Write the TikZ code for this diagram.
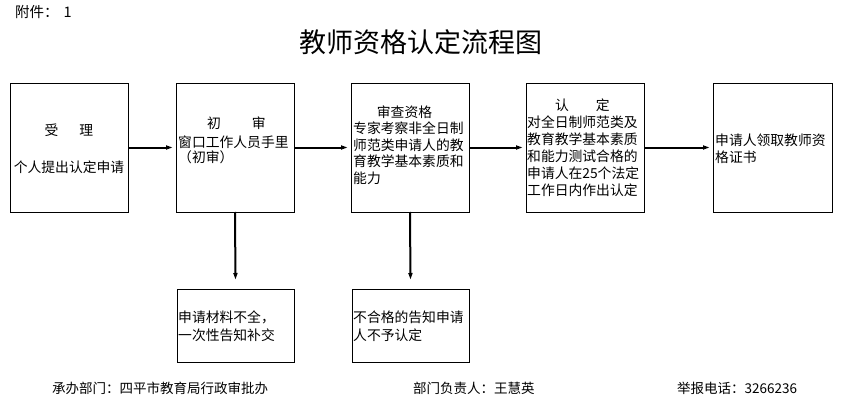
\documentclass[tikz,border=0pt]{standalone}
\usepackage{fontspec}
\setmainfont{Noto Sans CJK SC}
\usetikzlibrary{arrows.meta}
\begin{document}
\begin{tikzpicture}[x=1pt,y=-1pt,
  box/.style={draw=black,line width=0.8pt,rectangle,inner sep=0pt,outer sep=0pt},
  txt/.style={inner sep=0pt,anchor=west,font=\fontsize{13.8}{16}\selectfont},
  ctxt/.style={inner sep=0pt,anchor=center,font=\fontsize{13.8}{16}\selectfont},
  foot/.style={inner sep=0pt,anchor=west,font=\fontsize{13.5}{16}\selectfont},
  arr/.style={line width=2pt,-{Latex[length=10pt,width=4.5pt]}}]
\useasboundingbox (0,0) rectangle (846,412);
\fill[white] (0,0) rectangle (846,412);
% header and title
\node[inner sep=0pt,anchor=west,font=\fontsize{14.5}{16}\selectfont] (hdr) at (15,12) {附件：\hspace{5pt}1};
\node[inner sep=0pt,font=\fontsize{27}{30}\selectfont] (title) at (421,42) {教师资格认定流程图};
% boxes
\node[box,minimum width=118pt,minimum height=129pt] (b1) at (69,147.5) {};
\node[box,minimum width=118pt,minimum height=129pt] (b2) at (235,147.5) {};
\node[box,minimum width=118pt,minimum height=129pt] (b3) at (410,147.5) {};
\node[box,minimum width=118pt,minimum height=129pt] (b4) at (585,147.5) {};
\node[box,minimum width=119pt,minimum height=129pt] (b5) at (772.5,147.5) {};
\node[box,minimum width=117pt,minimum height=73pt] (bA) at (235.5,325.5) {};
\node[box,minimum width=117pt,minimum height=73pt] (bB) at (410.5,325.5) {};
% box 1 text
\node[ctxt] (t11) at (69,130) {受\hspace{21pt}理};
\node[ctxt] (t12) at (69,167) {个人提出认定申请};
% box 2 text
\node[txt] (t21) at (207,123) {初\hspace{31pt}审};
\node[txt] (t22) at (178,142) {窗口工作人员手里};
\node[txt] (t23) at (178,157) {（初审）};
% box 3 text
\node[ctxt] (t31) at (404.5,112) {审查资格};
\node[txt] (t32) at (353,128.5) {专家考察非全日制};
\node[txt] (t33) at (353,145) {师范类申请人的教};
\node[txt] (t34) at (353,161.5) {育教学基本素质和};
\node[txt] (t35) at (353,178) {能力};
% box 4 text
\node[txt] (t41) at (555,105) {认\hspace{27pt}定};
\node[txt] (t42) at (527,122) {对全日制师范类及};
\node[txt] (t43) at (527,139) {教育教学基本素质};
\node[txt] (t44) at (527,156) {和能力测试合格的};
\node[txt] (t45) at (527,173) {申请人在25个法定};
\node[txt] (t46) at (527,190) {工作日内作出认定};
% box 5 text
\node[txt] (t51) at (715,140) {申请人领取教师资};
\node[txt] (t52) at (715,157) {格证书};
% box A text
\node[txt] (tA1) at (178,317) {申请材料不全，};
\node[txt] (tA2) at (178,335) {一次性告知补交};
% box B text
\node[txt] (tB1) at (353,317) {不合格的告知申请};
\node[txt] (tB2) at (353,335) {人不予认定};
% connectors
\draw[arr] (b1.east) -- (b2.west);
\draw[arr] (b2.east) -- (b3.west);
\draw[arr] (b3.east) -- (b4.west);
\draw[arr] (b4.east) -- (b5.west);
\coordinate (eA) at ([yshift=6pt]bA.north);
\coordinate (eB) at ([yshift=6pt]bB.north);
\draw[arr] (b2.south) -- (eA);
\draw[arr] (b3.south) -- (eB);
% footer
\node[foot] (f1) at (52,388) {承办部门：四平市教育局行政审批办};
\node[foot] (f2) at (413,388) {部门负责人：王慧英};
\node[foot] (f3) at (677,388) {举报电话：3266236};
\end{tikzpicture}
\end{document}
